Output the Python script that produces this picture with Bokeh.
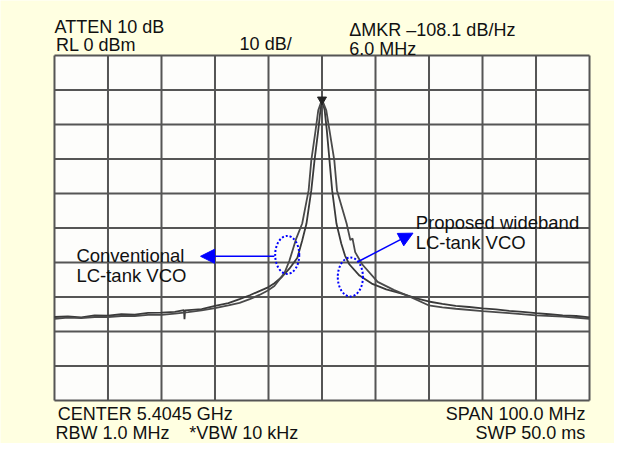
from bokeh.plotting import figure
from bokeh.models import Range1d, Label, Arrow, NormalHead, ColumnDataSource
from bokeh.embed import file_html
from bokeh.resources import INLINE

# ---- data (offset from centre, MHz ; level, dBm) ----
X_TICKS = [-50, -40, -30, -20, -10, 0, 10, 20, 30, 40, 50]
Y_TICKS = [-100, -90, -80, -70, -60, -50, -40, -30, -20, -10, 0]

trace_a_f = [-50, -47.5, -45, -42.5, -40, -37.5, -35, -32.5, -30, -27.5, -25.8, -25.7, -25.6,
             -22.5, -20, -17.5, -15.4, -13.5, -11.7, -10.2, -8.9, -7.5, -6.1, -4.6, -3.7, -2.9,
             -2.0, -1.4, -0.7, -0.3, 0,
             0.5, 0.9, 1.4, 1.9, 2.7, 3.6, 4.3, 5.1, 7.0, 9.3, 12.0, 14.9, 17.5, 19.9, 22.5,
             25, 27.5, 30, 32.5, 35, 37.5, 40, 42.5, 45, 47.5, 50]
trace_a_db = [-75.8, -75.6, -75.9, -75.3, -75.4, -75.0, -75.1, -74.6, -74.5, -74.3, -73.8, -76.4, -73.9,
              -73.5, -72.6, -71.8, -70.6, -69.5, -68.3, -67.3, -66.0, -64.2, -61.8, -58.6, -53.6, -48.7,
              -39.1, -30.4, -21.7, -15.9, -12.8,
              -15.9, -21.7, -30.4, -39.1, -48.7, -54.5, -58.0, -60.5, -63.8, -66.1, -67.8, -69.0, -70.3, -71.3, -72.0,
              -72.6, -72.9, -73.3, -73.6, -74.0, -74.3, -74.7, -75.0, -75.3, -75.5, -75.9]

trace_b_f = [-50, -47.5, -45, -42.5, -40, -37.5, -35, -32.5, -30, -27.5, -25, -22.5, -20, -17.5,
             -15.4, -13.5, -11.7, -10.2, -8.9, -7.0, -6.1, -4.8, -3.7, -2.5, -2.0, -1.2, -0.7, 0,
             0.8, 1.4, 2.3, 2.8, 4.6, 5.3, 5.7, 6.2, 7.5, 10.4, 13.5, 16.4, 19.9, 22.5, 25, 30,
             35, 40, 45, 50]
trace_b_db = [-76.3, -76.0, -76.1, -75.8, -75.8, -75.5, -75.5, -75.2, -75.2, -74.8, -74.4, -73.9, -73.2, -72.4,
              -71.7, -70.6, -69.4, -68.2, -66.8, -63.0, -59.5, -53.0, -48.7, -39.1, -30.4, -21.7, -15.9, -12.8,
              -15.9, -21.7, -30.4, -39.1, -48.7, -53.5, -53.0, -57.0, -60.5, -65.6, -68.0, -69.9, -72.4, -73.0, -73.4, -74.1,
              -74.7, -75.3, -75.7, -76.3]

marker_f = [0]
marker_db = [-12.8]

# annotation ellipses (centre f, centre dB, width MHz, height dB)
ell_f = [-6.5, 5.3]
ell_db = [-57.8, -64.2]
ell_w = [4.5, 4.7]
ell_h = [11.0, 11.3]

FONT = "Liberation Sans"
BG = "#FFFFE1"
GRID = "#555555"

# frame covers the whole canvas; graticule spans -50..50 MHz, -100..0 dB
p = figure(width=614, height=443, output_backend="svg", toolbar_location=None,
           x_range=Range1d(-60.09, 54.67), y_range=Range1d(-112.46, 15.94),
           x_axis_location=None, y_axis_location=None, min_border=0)
p.title.visible = False
p.border_fill_color = BG
p.background_fill_color = BG
p.outline_line_color = None
p.xgrid.visible = False
p.ygrid.visible = False

xmin, xmax = X_TICKS[0], X_TICKS[-1]
ymin, ymax = Y_TICKS[0], Y_TICKS[-1]
p.quad(left=[xmin], right=[xmax], bottom=[ymin], top=[ymax], fill_color="#FDFDFB", line_color=None)
p.segment(x0=X_TICKS, x1=X_TICKS, y0=[ymin] * len(X_TICKS), y1=[ymax] * len(X_TICKS),
          line_color=GRID, line_width=2)
p.segment(x0=[xmin] * len(Y_TICKS), x1=[xmax] * len(Y_TICKS), y0=Y_TICKS, y1=Y_TICKS,
          line_color=GRID, line_width=2)

p.line(trace_a_f, trace_a_db, line_color="#3a3a3a", line_width=1.8)
p.line(trace_b_f, trace_b_db, line_color="#4a4a4a", line_width=1.8)
p.scatter(marker_f, marker_db, marker="inverted_triangle", size=9, color="#222222")

src = ColumnDataSource(dict(x=ell_f, y=ell_db, w=ell_w, h=ell_h))
p.ellipse(x="x", y="y", width="w", height="h", source=src, fill_color=None,
          line_color="#0000FF", line_width=2, line_dash="2 2")

p.add_layout(Arrow(end=NormalHead(size=14, fill_color="#0000FF", line_color="#0000FF"),
                   x_start=-8.9, y_start=-58.2, x_end=-22.7, y_end=-58.2,
                   line_color="#0000FF", line_width=1.5))
p.add_layout(Arrow(end=NormalHead(size=14, fill_color="#0000FF", line_color="#0000FF"),
                   x_start=6.8, y_start=-59.7, x_end=17.0, y_end=-51.5,
                   line_color="#0000FF", line_width=1.5))

def lab(x, y, text, size="18px", align="left"):
    p.add_layout(Label(x=x, y=y, text=text, text_font=FONT, text_font_size=size,
                       text_align=align, text_baseline="alphabetic", text_color="#111111"))

lab(-50, 8.4, "ATTEN 10 dB")
lab(-49.7, 2.9, "RL 0 dBm")
lab(-15.4, 3.4, "10 dB/")
lab(5.1, 7.5, "\u0394MKR \u2013108.1 dB/Hz")
lab(5.1, 1.9, "6.0 MHz")
lab(-49.4, -104.0, "CENTER 5.4045 GHz")
lab(-49.8, -109.4, "RBW 1.0 MHz")
lab(-24.8, -109.4, "*VBW 10 kHz")
lab(49.25, -104.0, "SPAN 100.0 MHz", align="right")
lab(49.25, -109.4, "SWP 50.0 ms", align="right")

lab(-45.9, -58.0, "Conventional", size="18.5px")
lab(-45.9, -63.8, "LC-tank VCO", size="18.5px")
lab(17.5, -48.3, "Proposed wideband", size="18.5px")
lab(17.5, -54.1, "LC-tank VCO", size="18.5px")

open("out.html", "w").write(file_html(p, INLINE))
